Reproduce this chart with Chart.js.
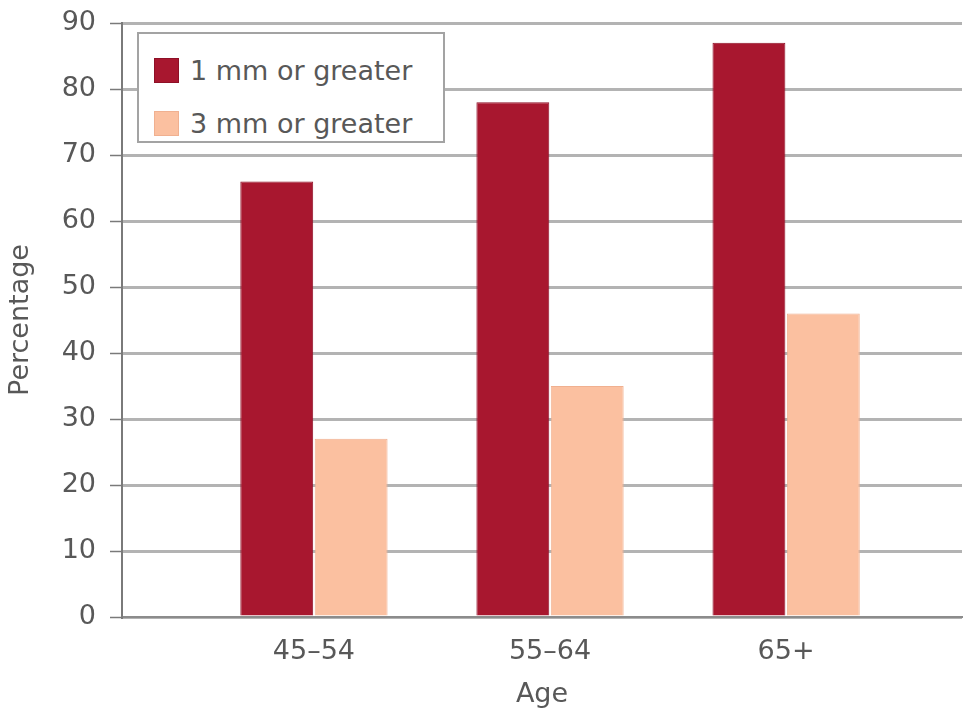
<!DOCTYPE html>
<html>
<head>
<meta charset="utf-8">
<script src="https://cdn.jsdelivr.net/npm/chart.js@4.4.1/dist/chart.umd.min.js"></script>
<style>
  body { margin: 0; background: #fff; }
  #wrap { position: relative; width: 964px; height: 717px; }
  #legend {
    position: absolute; left: 137px; top: 32px; width: 304px; height: 107px;
    border: 2px solid #a3a3a3; background: #fff;
    font-family: 'DejaVu Sans', sans-serif; font-size: 27px; color: #585858;
  }
  .item { position: absolute; left: 15px; display: flex; align-items: center; height: 30px; }
  .swatch { width: 25px; height: 25px; margin-right: 11px; box-sizing: border-box; border: 1px solid; }
</style>
</head>
<body>
<div id="wrap">
  <canvas id="chart" width="964" height="717"></canvas>
  <div id="legend"></div>
</div>
<script>
const ageGroups = ['45–54', '55–64', '65+'];
const seriesNames = ['1 mm or greater', '3 mm or greater'];
const oneMmOrGreater = [66, 78, 87];
const threeMmOrGreater = [27, 35, 46];

const darkRed = '#a8172f';
const peach = '#fbc0a0';
const textGrey = '#585858';
const labelFont = { family: 'DejaVu Sans', size: 27 };

const toPoints = values => values.map((v, i) => ({ x: i, y: v }));

const chart = new Chart(document.getElementById('chart'), {
  type: 'bar',
  data: {
    datasets: [
      {
        label: seriesNames[0],
        data: toPoints(oneMmOrGreater),
        backgroundColor: darkRed,
        borderColor: '#8e1027',
        borderWidth: 1,
        categoryPercentage: 0.63,
        barPercentage: 0.98
      },
      {
        label: seriesNames[1],
        data: toPoints(threeMmOrGreater),
        backgroundColor: peach,
        borderColor: '#f0b090',
        borderWidth: 1,
        categoryPercentage: 0.63,
        barPercentage: 0.98
      }
    ]
  },
  options: {
    responsive: false,
    animation: false,
    layout: { padding: { top: 23, right: 2, left: 0, bottom: 0 } },
    plugins: { legend: { display: false }, tooltip: { enabled: false } },
    scales: {
      x: {
        type: 'linear',
        min: -0.813,
        max: 2.745,
        offset: false,
        afterBuildTicks: axis => { axis.ticks = ageGroups.map((_, i) => ({ value: i })); },
        afterFit: axis => { axis.height = 100; },
        ticks: {
          callback: v => ageGroups[v],
          autoSkip: false,
          maxRotation: 0,
          padding: 19,
          color: textGrey,
          font: labelFont
        },
        grid: { display: false, drawTicks: false, offset: false },
        border: { color: '#8c8c8c', width: 2 },
        title: {
          display: true,
          text: 'Age',
          color: textGrey,
          font: labelFont,
          padding: { top: 4, bottom: 6 }
        }
      },
      y: {
        min: 0,
        max: 90,
        afterFit: axis => {
          axis.width = 122;
          // let the layout padding alone decide where the 90 line sits
          axis.paddingTop = 0;
          axis.paddingBottom = 0;
        },
        ticks: { stepSize: 10, padding: 14, color: textGrey, font: labelFont },
        grid: { color: '#b3b3b3', lineWidth: 3, tickLength: 12, tickColor: '#7a7a7a', tickWidth: 1.5 },
        border: { color: '#7a7a7a', width: 2 },
        title: {
          display: true,
          text: 'Percentage',
          color: textGrey,
          font: labelFont,
          padding: { top: 5, bottom: 4 }
        }
      }
    }
  }
});

// legend box drawn as html, inside the plot like the original
const legendEl = document.getElementById('legend');
chart.data.datasets.forEach((ds, i) => {
  const item = document.createElement('div');
  item.className = 'item';
  item.style.top = (21 + i * 53) + 'px';
  const sw = document.createElement('span');
  sw.className = 'swatch';
  sw.style.background = ds.backgroundColor;
  sw.style.borderColor = ds.borderColor;
  const txt = document.createElement('span');
  txt.textContent = ds.label;
  item.appendChild(sw);
  item.appendChild(txt);
  legendEl.appendChild(item);
});
</script>
</body>
</html>
